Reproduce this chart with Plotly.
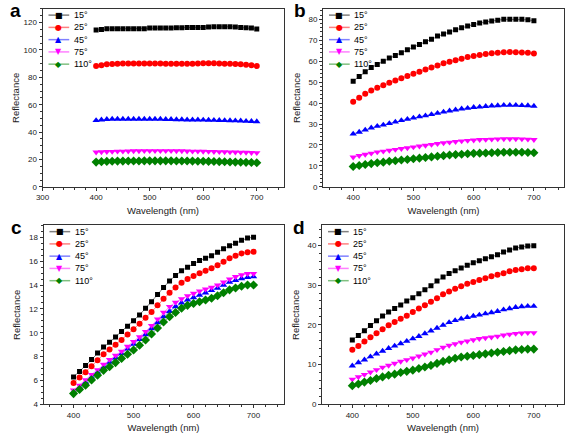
import plotly.graph_objects as go

wavelength = list(range(400, 701, 10))
angles = ["15°", "25°", "45°", "75°", "110°"]

# Panel a
a_15 = [114.5,115.0,115.5,115.5,115.5,115.5,115.5,115.5,115.5,115.5,116.0,116.0,116.0,116.0,116.0,116.2,116.3,116.5,116.5,116.5,116.5,116.8,117.0,117.0,117.0,117.0,116.8,116.5,116.3,116.0,115.3]
a_25 = [88.3,88.8,89.5,89.8,90.0,90.2,90.2,90.2,90.2,90.2,90.2,90.2,90.2,90.0,90.0,90.0,90.0,90.0,90.0,90.2,90.3,90.3,90.3,90.2,90.0,90.0,89.8,89.5,89.2,88.8,88.3]
a_45 = [48.5,49.0,49.3,49.5,49.5,49.5,49.5,49.5,49.5,49.5,49.5,49.5,49.5,49.3,49.3,49.2,49.2,49.0,49.0,49.0,48.9,48.8,48.7,48.6,48.5,48.4,48.3,48.2,48.0,47.9,47.7]
a_75 = [25.3,25.5,25.7,25.8,26.0,26.0,26.1,26.2,26.2,26.3,26.3,26.3,26.3,26.3,26.3,26.2,26.2,26.1,26.0,26.0,25.9,25.8,25.7,25.6,25.5,25.4,25.3,25.2,25.1,25.0,24.9]
a_110 = [18.1,18.4,18.6,18.7,18.8,18.8,18.9,18.9,18.9,19.0,19.0,19.0,19.0,19.0,19.0,18.9,18.9,18.9,18.8,18.7,18.7,18.6,18.5,18.4,18.3,18.2,18.1,18.0,17.9,17.8,17.6]

# Panel b
b_15 = [50.5,52.7,55.0,57.0,58.5,60.0,61.5,62.8,64.0,65.5,66.8,68.0,69.3,70.5,72.0,73.0,74.0,75.0,76.0,76.8,77.5,78.3,78.8,79.2,79.6,80.0,80.0,80.0,80.0,79.8,79.3]
b_25 = [40.7,42.6,44.5,46.0,47.3,48.5,49.7,50.8,51.9,53.0,54.0,55.0,56.0,57.0,58.0,59.0,59.8,60.5,61.2,62.0,62.5,63.0,63.5,63.8,64.0,64.3,64.4,64.3,64.2,64.0,63.7]
b_45 = [25.3,26.2,27.2,28.2,29.0,29.6,30.3,31.0,31.7,32.3,32.9,33.5,34.0,34.6,35.2,35.8,36.3,36.8,37.3,37.6,38.0,38.2,38.5,38.7,38.8,39.0,39.0,39.0,38.9,38.8,38.6]
b_75 = [14.2,14.9,15.5,16.0,16.6,17.0,17.4,17.8,18.2,18.6,19.0,19.4,19.8,20.2,20.6,21.0,21.3,21.6,21.9,22.1,22.3,22.5,22.6,22.7,22.8,22.9,22.9,22.9,22.8,22.7,22.5]
b_110 = [9.7,10.2,10.7,11.1,11.5,11.8,12.2,12.5,12.8,13.1,13.4,13.7,14.0,14.3,14.6,14.9,15.2,15.4,15.6,15.8,16.0,16.1,16.2,16.3,16.4,16.5,16.5,16.5,16.5,16.4,16.3]

# Panel c
c_15 = [6.3,6.75,7.25,7.75,8.3,8.8,9.2,9.65,10.1,10.55,11.0,11.5,12.05,12.6,13.2,13.8,14.35,14.8,15.2,15.5,15.8,16.05,16.25,16.45,16.75,17.05,17.3,17.5,17.75,17.95,18.0]
c_25 = [5.8,6.25,6.7,7.2,7.7,8.2,8.6,9.0,9.4,9.85,10.3,10.75,11.25,11.75,12.3,12.85,13.35,13.8,14.2,14.5,14.75,15.0,15.2,15.4,15.65,15.95,16.25,16.45,16.65,16.75,16.8]
c_45 = [5.0,5.45,5.85,6.3,6.7,7.15,7.55,7.9,8.25,8.65,9.05,9.45,9.85,10.35,10.85,11.35,11.8,12.2,12.5,12.75,12.95,13.15,13.35,13.55,13.75,14.0,14.25,14.4,14.55,14.65,14.7]
c_75 = [5.2,5.6,6.05,6.5,6.9,7.35,7.75,8.1,8.45,8.85,9.25,9.65,10.1,10.6,11.15,11.7,12.2,12.55,12.85,13.1,13.3,13.5,13.65,13.8,14.0,14.25,14.5,14.7,14.85,14.95,14.95]
c_110 = [4.9,5.25,5.6,6.05,6.45,6.85,7.15,7.5,7.85,8.2,8.55,8.95,9.4,9.9,10.4,10.9,11.35,11.7,12.05,12.3,12.45,12.6,12.75,12.9,13.1,13.35,13.6,13.75,13.9,14.0,14.0]

# Panel d
d_15 = [16.2,17.3,18.5,19.8,21.0,22.2,23.2,24.1,25.0,26.0,26.8,27.8,28.8,29.8,31.0,32.0,32.9,33.6,34.3,35.0,35.6,36.1,36.6,37.1,37.6,38.3,38.8,39.3,39.6,39.8,39.9]
d_25 = [13.7,14.7,15.8,16.9,17.9,18.9,19.9,20.7,21.5,22.3,23.2,24.1,24.9,25.8,26.7,27.7,28.4,29.1,29.7,30.3,30.8,31.3,31.7,32.2,32.6,33.0,33.5,33.8,34.0,34.2,34.2]
d_45 = [9.7,10.5,11.2,12.0,12.7,13.4,14.1,14.7,15.3,15.9,16.5,17.1,17.8,18.5,19.2,19.9,20.6,21.1,21.5,21.9,22.2,22.5,22.8,23.1,23.4,23.8,24.1,24.4,24.6,24.7,24.7]
d_75 = [6.3,6.9,7.5,8.1,8.7,9.3,9.8,10.3,10.8,11.2,11.6,12.1,12.6,13.1,13.7,14.3,14.8,15.2,15.6,15.9,16.2,16.5,16.7,16.9,17.1,17.4,17.6,17.8,17.9,18.0,18.0]
d_110 = [4.7,5.1,5.6,6.0,6.5,6.9,7.3,7.6,8.0,8.3,8.6,9.0,9.4,9.8,10.3,10.8,11.2,11.6,11.9,12.1,12.3,12.5,12.7,12.9,13.1,13.3,13.5,13.7,13.8,13.9,13.9]

panel_letters = ["a", "b", "c", "d"]
panel_series = [
    [a_15, a_25, a_45, a_75, a_110],
    [b_15, b_25, b_45, b_75, b_110],
    [c_15, c_25, c_45, c_75, c_110],
    [d_15, d_25, d_45, d_75, d_110],
]
y_ranges = [[0, 130], [0, 85], [4, 19], [0, 45]]
y_dticks = [20, 10, 2, 10]
x_ranges = [[300, 750], [350, 750], [350, 750], [350, 750]]

# ---- styling ----
W, H = 567, 440
marker_colors = ["#000000", "#FF0000", "#0000FF", "#FF00FF", "#008000"]
line_colors = ["#808080", "#FF8080", "#8080FF", "#FF80FF", "#80C080"]
symbols = ["square", "circle", "triangle-up", "triangle-down", "diamond"]
msizes = [5, 6, 6.5, 6.5, 7]
glyphs = ["■", "●", "▲", "▼", "◆"]
gsizes = [8, 8, 8, 8, 8]
# pixel boxes of the four plot frames: (left, right, top, bottom)
boxes = [(36, 280, 9, 189), (320, 564, 9, 189), (37, 280, 228, 409), (319, 564, 228, 409)]
y_standoff = [2, 6, 6, 6]
FONT = "Liberation Sans, Arial, sans-serif"
AX = "#333333"

fig = go.Figure()
annotations = []
shapes = []
layout = {}
for p in range(4):
    sfx = "" if p == 0 else str(p + 1)
    xa, ya = "x" + sfx, "y" + sfx
    for s in range(5):
        fig.add_trace(go.Scatter(
            x=wavelength, y=panel_series[p][s], name=angles[s],
            mode="lines+markers", xaxis=xa, yaxis=ya, showlegend=False,
            line=dict(color=line_colors[s], width=1),
            marker=dict(symbol=symbols[s], size=msizes[s], color=marker_colors[s],
                        line=dict(width=0)),
        ))
    l, r, t, b = boxes[p]
    common = dict(showline=True, linecolor=AX, linewidth=1, mirror=True,
                  ticks="outside", ticklen=3, tickwidth=1, tickcolor=AX,
                  showgrid=False, zeroline=False,
                  tickfont=dict(family=FONT, size=8, color="#222"),
                  minor=dict(ticks="outside", ticklen=2, tickcolor=AX, showgrid=False))
    layout["xaxis" + sfx] = dict(
        common, domain=[l / W, r / W], range=x_ranges[p], dtick=100, tick0=0,
        anchor=ya, title=dict(text="Wavelength (nm)", standoff=5,
                              font=dict(family=FONT, size=9.5, color="#222")))
    layout["yaxis" + sfx] = dict(
        common, domain=[1 - b / H, 1 - t / H], range=y_ranges[p], dtick=y_dticks[p],
        tick0=0, anchor=xa, title=dict(text="Reflectance", standoff=y_standoff[p],
                                       font=dict(family=FONT, size=9.5, color="#222")))
    # panel letter
    annotations.append(dict(text="<b>%s</b>" % panel_letters[p], xref="paper", yref="paper",
                            x=(l - 36 + 1) / W if p in (0, 2) else (l - 31) / W,
                            y=1 - (t + 2) / H, xanchor="left", yanchor="middle",
                            showarrow=False, font=dict(family=FONT, size=19, color="#000")))
    # legend entries
    for s in range(5):
        ypx = t + 6.3 + 12.4 * s
        yy = 1 - ypx / H
        shapes.append(dict(type="line", xref="paper", yref="paper",
                           x0=(l + 6) / W, x1=(l + 27) / W, y0=yy, y1=yy,
                           line=dict(color=line_colors[s], width=1.5)))
        annotations.append(dict(
            text=glyphs[s], xref="paper", yref="paper", x=(l + 16.5) / W, y=yy,
            xanchor="center", yanchor="middle", showarrow=False,
            font=dict(family="DejaVu Sans", size=gsizes[s], color=marker_colors[s])))
        annotations.append(dict(
            text=angles[s], xref="paper", yref="paper", x=(l + 29.5) / W, y=yy,
            xanchor="left", yanchor="middle", showarrow=False,
            font=dict(family=FONT, size=9, color="#000")))

fig.update_layout(
    width=W, height=H, margin=dict(l=0, r=0, t=0, b=0),
    paper_bgcolor="white", plot_bgcolor="white", showlegend=False,
    hovermode=False, annotations=annotations, shapes=shapes, **layout)

fig.write_html("out.html", config={"displayModeBar": False, "staticPlot": True},
               post_script="document.body.style.margin='0px';document.body.style.overflow='hidden';")
